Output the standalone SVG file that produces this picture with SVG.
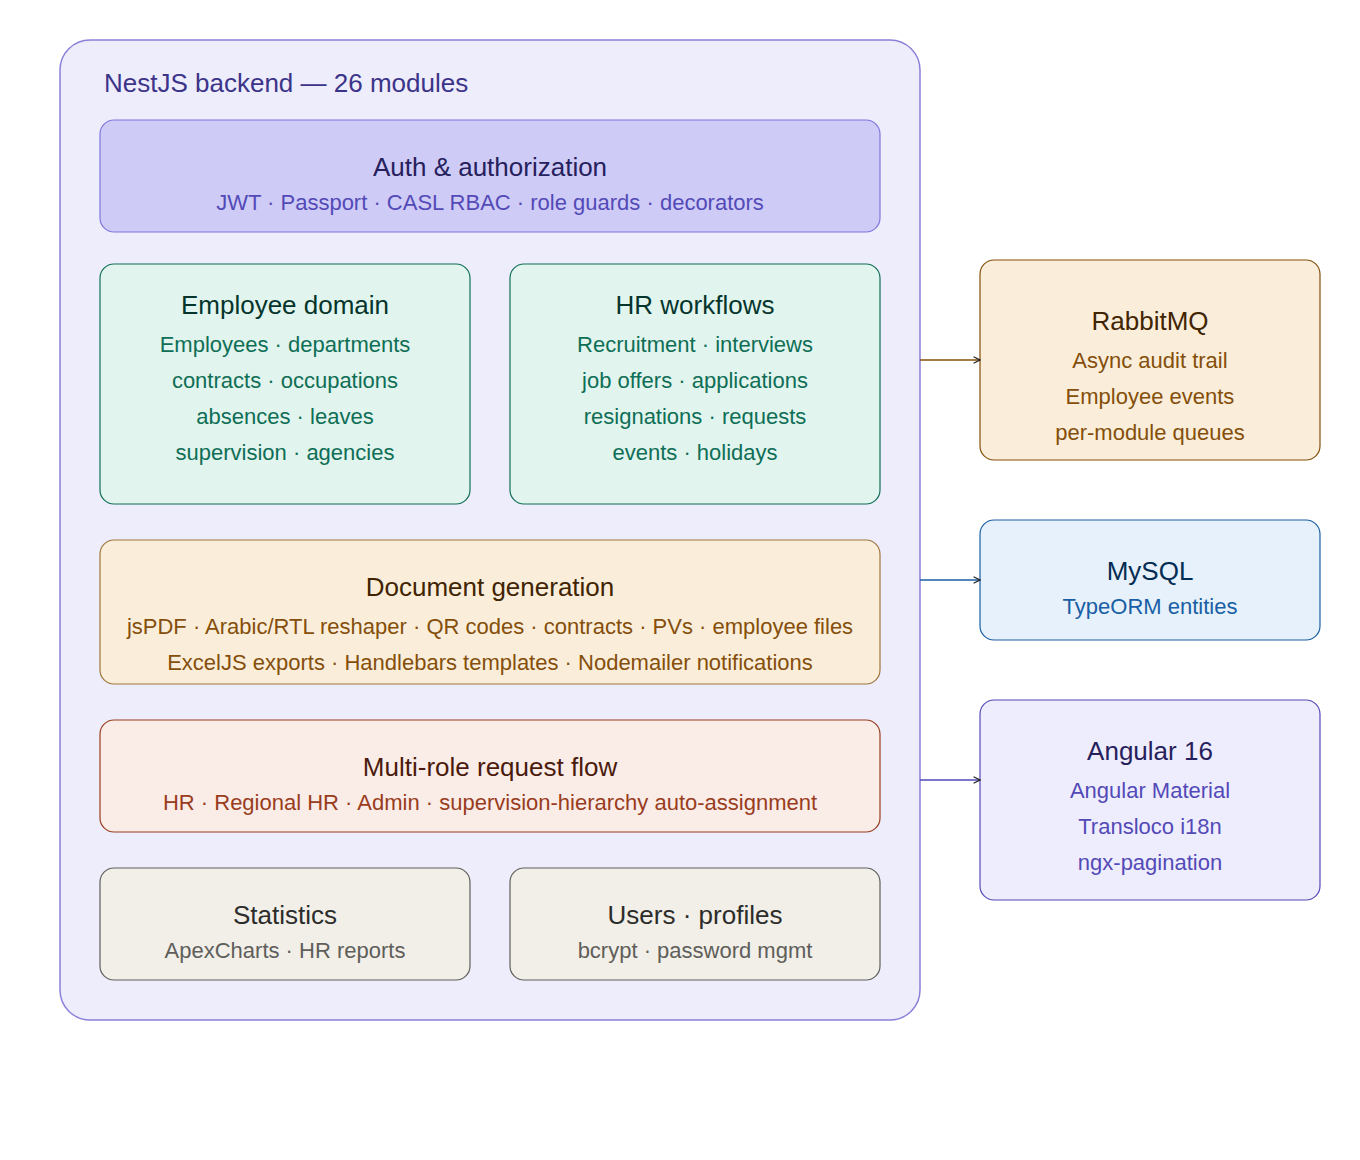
<svg xmlns="http://www.w3.org/2000/svg" width="1360" height="1160" viewBox="0 0 1360 1160">
<style>
text{font-family:"Liberation Sans",Arial,sans-serif;text-anchor:middle}
.t{font-size:26px}.s{font-size:22px}
</style>
<defs>
<marker id="ah" viewBox="0 0 10 10" refX="9" refY="5" markerWidth="8" markerHeight="8" markerUnits="userSpaceOnUse" orient="auto"><path d="M1 1L9 5L1 9" fill="none" stroke="#222" stroke-width="1.5"/></marker>
</defs>
<rect width="1360" height="1160" fill="#fff"/>
<g id="backend">
<rect x="60" y="40" width="860" height="980" rx="30" fill="#eeedfc" stroke="#8b80d8" stroke-width="1.5"/>
<text x="104" y="92" class="t" style="text-anchor:start" fill="#3c3489">NestJS backend — 26 modules</text>
</g>
<g id="auth">
<rect x="100" y="120" width="780" height="112" rx="14" fill="#cecbf6" stroke="#7f77dd" stroke-width="1.2"/>
<text x="490" y="176" class="t" fill="#26215c">Auth &amp; authorization</text>
<text x="490" y="210" class="s" fill="#534ab7">JWT · Passport · CASL RBAC · role guards · decorators</text>
</g>
<g id="employee">
<rect x="100" y="264" width="370" height="240" rx="14" fill="#e1f5ee" stroke="#0f6e56" stroke-width="1.2"/>
<text x="285" y="314" class="t" fill="#04342c">Employee domain</text>
<text x="285" y="352" class="s" fill="#0f6e56">Employees · departments</text>
<text x="285" y="388" class="s" fill="#0f6e56">contracts · occupations</text>
<text x="285" y="424" class="s" fill="#0f6e56">absences · leaves</text>
<text x="285" y="460" class="s" fill="#0f6e56">supervision · agencies</text>
</g>
<g id="hr">
<rect x="510" y="264" width="370" height="240" rx="14" fill="#e1f5ee" stroke="#0f6e56" stroke-width="1.2"/>
<text x="695" y="314" class="t" fill="#04342c">HR workflows</text>
<text x="695" y="352" class="s" fill="#0f6e56">Recruitment · interviews</text>
<text x="695" y="388" class="s" fill="#0f6e56">job offers · applications</text>
<text x="695" y="424" class="s" fill="#0f6e56">resignations · requests</text>
<text x="695" y="460" class="s" fill="#0f6e56">events · holidays</text>
</g>
<g id="docs">
<rect x="100" y="540" width="780" height="144" rx="14" fill="#faeeda" stroke="#a0763b" stroke-width="1.2"/>
<text x="490" y="596" class="t" fill="#412402">Document generation</text>
<text x="490" y="634" class="s" fill="#854f0b">jsPDF · Arabic/RTL reshaper · QR codes · contracts · PVs · employee files</text>
<text x="490" y="670" class="s" fill="#854f0b">ExcelJS exports · Handlebars templates · Nodemailer notifications</text>
</g>
<g id="multirole">
<rect x="100" y="720" width="780" height="112" rx="14" fill="#faece7" stroke="#993c1d" stroke-width="1.2"/>
<text x="490" y="776" class="t" fill="#4a1b0c">Multi-role request flow</text>
<text x="490" y="810" class="s" fill="#993c1d">HR · Regional HR · Admin · supervision-hierarchy auto-assignment</text>
</g>
<g id="stats">
<rect x="100" y="868" width="370" height="112" rx="14" fill="#f1efe8" stroke="#5f5e5a" stroke-width="1.2"/>
<text x="285" y="924" class="t" fill="#2c2c2a">Statistics</text>
<text x="285" y="958" class="s" fill="#5f5e5a">ApexCharts · HR reports</text>
</g>
<g id="users">
<rect x="510" y="868" width="370" height="112" rx="14" fill="#f1efe8" stroke="#5f5e5a" stroke-width="1.2"/>
<text x="695" y="924" class="t" fill="#2c2c2a">Users · profiles</text>
<text x="695" y="958" class="s" fill="#5f5e5a">bcrypt · password mgmt</text>
</g>
<g id="rabbitmq">
<rect x="980" y="260" width="340" height="200" rx="14" fill="#faeeda" stroke="#854f0b" stroke-width="1.2"/>
<text x="1150" y="330" class="t" fill="#412402">RabbitMQ</text>
<text x="1150" y="368" class="s" fill="#854f0b">Async audit trail</text>
<text x="1150" y="404" class="s" fill="#854f0b">Employee events</text>
<text x="1150" y="440" class="s" fill="#854f0b">per-module queues</text>
</g>
<g id="mysql">
<rect x="980" y="520" width="340" height="120" rx="14" fill="#e6f1fb" stroke="#185fa5" stroke-width="1.2"/>
<text x="1150" y="580" class="t" fill="#042c53">MySQL</text>
<text x="1150" y="614" class="s" fill="#185fa5">TypeORM entities</text>
</g>
<g id="angular">
<rect x="980" y="700" width="340" height="200" rx="14" fill="#eeedfe" stroke="#534ab7" stroke-width="1.2"/>
<text x="1150" y="760" class="t" fill="#26215c">Angular 16</text>
<text x="1150" y="798" class="s" fill="#534ab7">Angular Material</text>
<text x="1150" y="834" class="s" fill="#534ab7">Transloco i18n</text>
<text x="1150" y="870" class="s" fill="#534ab7">ngx-pagination</text>
</g>
<g id="connectors" fill="none" stroke-width="1.5">
<line x1="920" y1="360" x2="980" y2="360" stroke="#854f0b" marker-end="url(#ah)"/>
<line x1="920" y1="580" x2="980" y2="580" stroke="#185fa5" marker-end="url(#ah)"/>
<line x1="920" y1="780" x2="980" y2="780" stroke="#534ab7" marker-end="url(#ah)"/>
</g>
</svg>
